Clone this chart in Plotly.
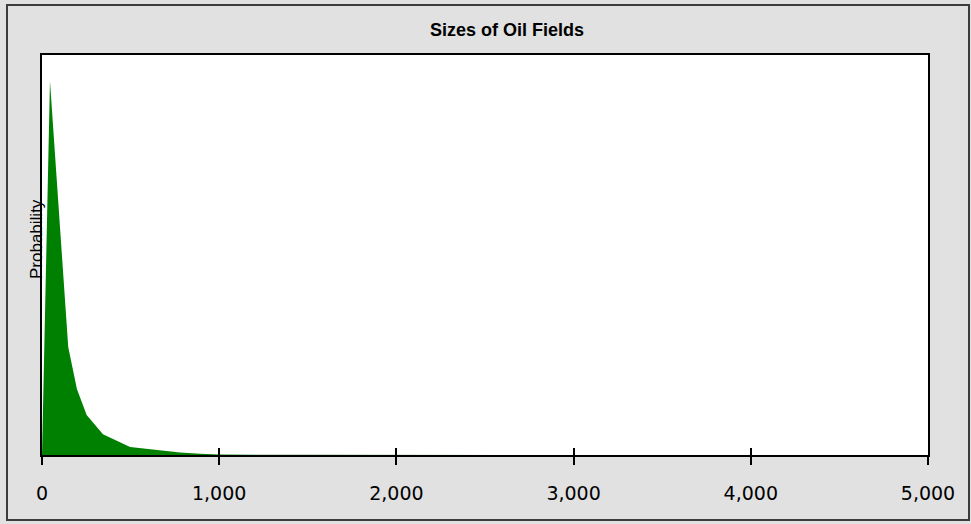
import plotly.graph_objects as go

# Data (field size vs relative probability)
field_size = [0, 45, 148, 197, 252, 344, 497, 609, 779, 893, 1000, 1500, 2000, 3000, 4000, 5000]
probability = [0, 0.935, 0.27, 0.165, 0.10, 0.052, 0.02, 0.0145, 0.006, 0.003, 0.001, 0.0004, 0.0002, 0.0001, 0, 0]
tick_vals = [0, 1000, 2000, 3000, 4000, 5000]
tick_text = ["0", "1,000", "2,000", "3,000", "4,000", "5,000"]

W, H = 971, 524
L, R, T, B = 42, 43, 55, 69

fig = go.Figure()
fig.add_trace(go.Scatter(
    x=field_size, y=probability, mode="lines", fill="tozeroy",
    line=dict(color="#008000", width=0), fillcolor="#008000",
    hoverinfo="skip", showlegend=False,
))
# invisible trace on overlay axis for inside tick marks
fig.add_trace(go.Scatter(x=[field_size[0], field_size[-1]], y=[0, 0], xaxis="x2",
                         mode="lines", line=dict(width=0), hoverinfo="skip", showlegend=False))

fig.update_layout(
    width=W, height=H,
    paper_bgcolor="#e1e1e1", plot_bgcolor="#ffffff",
    margin=dict(l=L, r=R, t=T, b=B, pad=0),
    font=dict(family="Liberation Sans, Arial, sans-serif", color="#000000"),
    xaxis=dict(range=[0, 5000], tickvals=tick_vals, ticktext=tick_text,
               ticks="outside", ticklen=8, tickwidth=2, tickcolor="#000",
               showline=True, linecolor="#000", linewidth=2, mirror=True,
               showgrid=False, zeroline=False,
               tickfont=dict(size=19, family="DejaVu Sans, sans-serif"),
               ticklabelstandoff=12, fixedrange=True),
    xaxis2=dict(range=[0, 5000], tickvals=tick_vals, overlaying="x",
                ticks="inside", ticklen=7, tickwidth=2, tickcolor="#000",
                showticklabels=False, showgrid=False, zeroline=False, side="bottom",
                anchor="y"),
    yaxis=dict(range=[0, 1], showticklabels=False, ticks="", showgrid=False,
               zeroline=False, showline=True, linecolor="#000", linewidth=2,
               mirror=True, fixedrange=True),
    annotations=[
        dict(text="<b>Sizes of Oil Fields</b>", xref="paper", yref="paper",
             x=(506.7 - L) / (W - L - R), y=(H - B - 30) / (H - T - B),
             xanchor="center", yanchor="middle", showarrow=False,
             font=dict(size=18, color="#000")),
        dict(text="Probability", xref="paper", yref="paper",
             x=(36 - L) / (W - L - R), y=(H - B - 239) / (H - T - B),
             xanchor="center", yanchor="middle", showarrow=False, textangle=-90,
             font=dict(size=17, color="#000")),
    ],
    shapes=[
        dict(type="rect", xref="paper", yref="paper",
             x0=(7 - L) / (W - L - R), x1=(969 - L) / (W - L - R),
             y0=(H - B - 520) / (H - T - B), y1=(H - B - 5) / (H - T - B),
             line=dict(color="#3c3c3c", width=2), layer="below"),
    ],
)

fig.write_html("out.html", config={"displayModeBar": False, "staticPlot": True},
               post_script="document.body.style.margin='0';document.body.style.padding='0';document.body.style.overflow='hidden';")
